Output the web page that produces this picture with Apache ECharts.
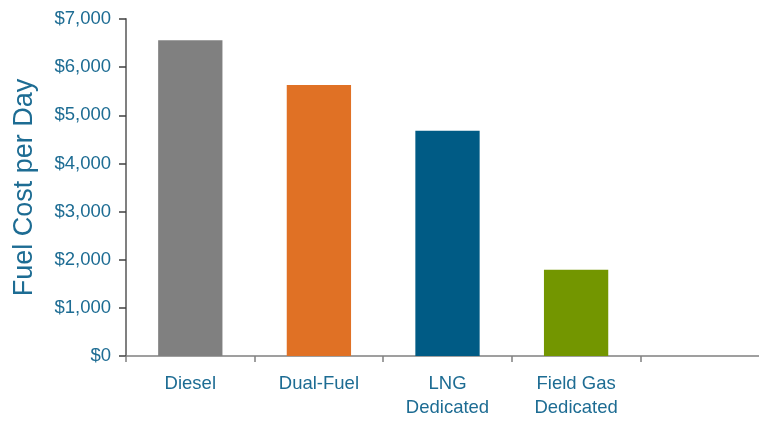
<!DOCTYPE html>
<html>
<head>
<meta charset="utf-8">
<script src="https://cdn.jsdelivr.net/npm/echarts@6/dist/echarts.min.js"></script>
<style>
  html, body { margin: 0; padding: 0; background: #fff; overflow: hidden; }
  #chart { width: 772px; height: 421px; }
</style>
</head>
<body>
<div id="chart"></div>
<script>
// data
var categories = ['Diesel', 'Dual-Fuel', 'LNG\nDedicated', 'Field Gas\nDedicated', '']
var costPerDay = [6560, 5630, 4680, 1790, null]
var barColors = ['#808080', '#e07125', '#005b85', '#739600', '#ffffff']

var textBlue = '#1d6c93'
var axisGray = '#808080'
var font = 'Liberation Sans, Arial, sans-serif'

// the last (empty) category runs past the right edge of the window
var chart = echarts.init(document.getElementById('chart'))

chart.setOption({
  animation: false,
  grid: { left: 126, right: 3, top: 19, bottom: 65 },
  xAxis: {
    type: 'category',
    data: categories,
    axisLine: { lineStyle: { color: axisGray, width: 1.5 } },
    axisTick: { show: true, length: 6, lineStyle: { color: axisGray, width: 1.5 } },
    axisLabel: {
      color: textBlue,
      fontFamily: font,
      fontSize: 18.5,
      lineHeight: 24,
      margin: 16
    }
  },
  yAxis: {
    type: 'value',
    min: 0,
    max: 7000,
    interval: 1000,
    name: 'Fuel Cost per Day',
    nameLocation: 'middle',
    nameGap: 88,
    nameTextStyle: {
      color: textBlue,
      fontFamily: font,
      fontSize: 27
    },
    splitLine: { show: false },
    axisLine: { show: true, lineStyle: { color: axisGray, width: 2 } },
    axisTick: { show: true, length: 7, lineStyle: { color: '#404040', width: 1.5 } },
    axisLabel: {
      color: textBlue,
      fontFamily: font,
      fontSize: 18.5,
      margin: 15,
      formatter: function (v) {
        return '$' + v.toLocaleString('en-US')
      }
    }
  },
  series: [{
    type: 'bar',
    data: costPerDay,
    barWidth: '50%',
    itemStyle: {
      color: function (p) { return barColors[p.dataIndex] }
    }
  }]
})
</script>
</body>
</html>
